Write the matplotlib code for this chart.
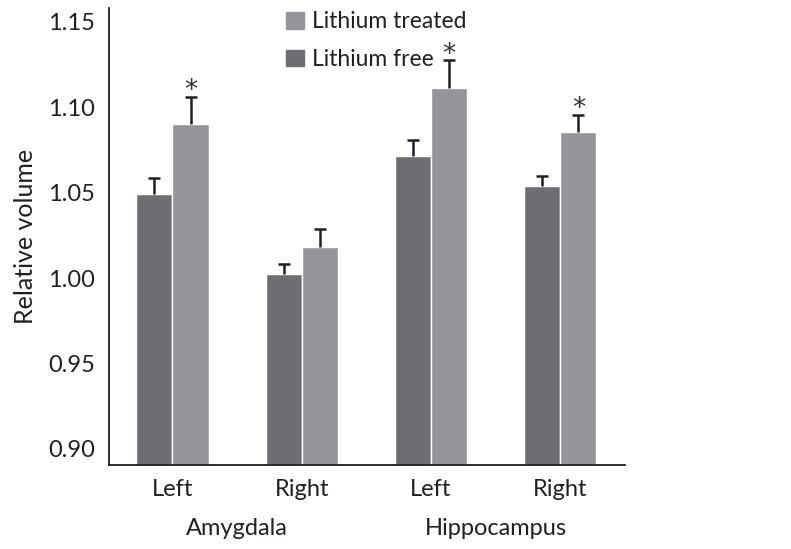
import matplotlib
matplotlib.use("Agg")
import matplotlib.pyplot as plt
import matplotlib.patches as mpatches
import numpy as np

# ── Data ─────────────────────────────────────────────────────────────────────
sides = ["Left", "Right", "Left", "Right"]
regions = ["Amygdala", "Hippocampus"]
free_vals = [1.049, 1.0025, 1.0715, 1.054]
free_err = [0.0095, 0.0055, 0.0095, 0.0055]
treated_vals = [1.090, 1.018, 1.111, 1.0855]
treated_err = [0.016, 0.0105, 0.0165, 0.010]
significant = [True, False, True, True]
yticks = [0.90, 0.95, 1.00, 1.05, 1.10, 1.15]

DARK = "#6d6e71"
LIGHT = "#939598"
INK = "#231f20"

plt.rcParams.update({
    "font.family": ["Lato", "DejaVu Sans"],
    "font.size": 16,
})

fig = plt.figure(figsize=(7.91, 5.49), dpi=100)
ax = fig.add_axes([0.138, 0.153, 0.652, 0.832])

x = np.arange(len(sides))
w = 0.28
xf = x - w / 2
xt = x + w / 2

ax.bar(xf, free_vals, width=w, color=DARK, edgecolor="white", linewidth=1.0, zorder=2)
ax.bar(xt, treated_vals, width=w, color=LIGHT, edgecolor="white", linewidth=1.0, zorder=2)

# one-sided error bars (upward only)
cap = 0.047
for xs, vals, errs in [(xf, free_vals, free_err), (xt, treated_vals, treated_err)]:
    vals = np.array(vals)
    tops = vals + np.array(errs)
    ax.vlines(xs, vals, tops, color=INK, linewidth=1.8, zorder=3)
    ax.hlines(tops, xs - cap, xs + cap, color=INK, linewidth=1.8, zorder=3)

for xi, v, e, s in zip(xt, treated_vals, treated_err, significant):
    if s:
        ax.annotate("*", (xi, v + e), xytext=(0, -1), textcoords="offset points",
                    ha="center", va="baseline", fontsize=19, color="#333333",
                    family="DejaVu Sans")

ax.set_xlim(-0.49, 3.50)
ax.set_ylim(0.8905, 1.158)
ax.set_yticks(yticks)
ax.set_yticklabels([f"{t:.2f}" for t in yticks])
ax.set_xticks(x)
ax.set_xticklabels(sides)
ax.tick_params(axis="both", length=0, labelsize=17, colors=INK)
ax.tick_params(axis="y", pad=10)
ax.tick_params(axis="x", pad=10)
ax.set_ylabel("Relative volume", fontsize=18, color=INK, labelpad=8)

for sp in ["top", "right"]:
    ax.spines[sp].set_visible(False)
for sp in ["left", "bottom"]:
    ax.spines[sp].set_linewidth(1.3)
    ax.spines[sp].set_color(INK)

for i, reg in enumerate(regions):
    cx = (x[2 * i] + x[2 * i + 1]) / 2
    ax.text(cx, -0.14, reg, transform=ax.get_xaxis_transform(),
            ha="center", va="center", fontsize=17, color=INK)

handles = [mpatches.Patch(color=LIGHT, label="Lithium treated"),
           mpatches.Patch(color=DARK, label="Lithium free")]
ax.legend(handles=handles, loc="upper left", bbox_to_anchor=(0.343, 0.993),
          frameon=False, fontsize=16.5, handlelength=0.8, handleheight=0.75,
          handletextpad=0.35, labelspacing=0.72, borderpad=0, borderaxespad=0,
          labelcolor=INK)

fig.savefig("out.png", dpi=100)
